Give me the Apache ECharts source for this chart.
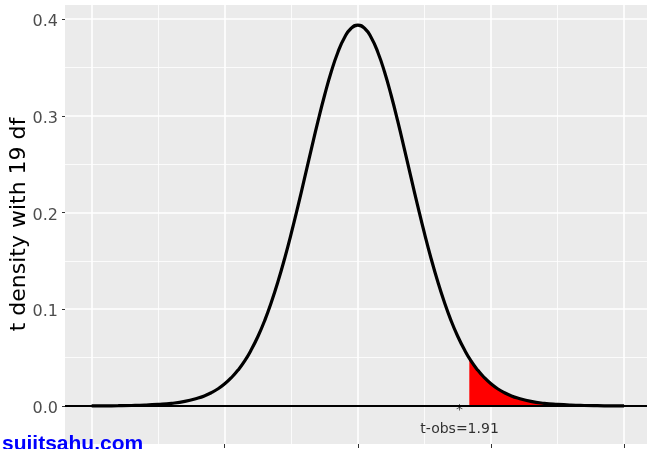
<!DOCTYPE html>
<html>
<head>
<meta charset="utf-8">
<script src="https://cdn.jsdelivr.net/npm/echarts@6/dist/echarts.min.js"></script>
<style>html,body{margin:0;padding:0;background:#fff;}#c{width:647px;height:449px;}</style>
</head>
<body>
<div id="c"></div>
<script>
// ---- data ----
const tValues = [-5,-4.75,-4.5,-4.25,-4,-3.75,-3.5,-3.25,-3,-2.875,-2.75,-2.625,-2.5,-2.375,-2.25,-2.125,-2,-1.875,-1.75,-1.625,-1.5,-1.375,-1.25,-1.125,-1,-0.875,-0.75,-0.625,-0.5,-0.375,-0.25,-0.125,
                 0,0.125,0.25,0.375,0.5,0.625,0.75,0.875,1,1.125,1.25,1.375,1.5,1.625,1.75,1.875,2,2.125,2.25,2.375,2.5,2.625,2.75,2.875,3,3.25,3.5,3.75,4,4.25,4.5,4.75,5];
const densityValues = [0.0001,0.00016,0.00028,0.00049,0.00088,0.0016,0.0027,0.0047,0.0082,0.0106,0.0138,0.0178,0.0229,0.0293,0.0371,0.0466,0.0583,0.0721,0.0883,0.1072,0.1286,0.1525,0.1786,0.2066,0.2357,0.2652,0.2941,0.3212,0.3455,0.3657,0.3810,0.3905,
                       0.3937,0.3905,0.3810,0.3657,0.3455,0.3212,0.2941,0.2652,0.2357,0.2066,0.1786,0.1525,0.1286,0.1072,0.0883,0.0721,0.0583,0.0466,0.0371,0.0293,0.0229,0.0178,0.0138,0.0106,0.0082,0.0047,0.0027,0.0016,0.00088,0.00049,0.00028,0.00016,0.0001];
const shadeT = [2.093,2.125,2.25,2.375,2.5,2.625,2.75,2.875,3,3.25,3.5,3.75,4,4.25,4.5,4.75,5];
const shadeDensity = [0.0495,0.0466,0.0371,0.0293,0.0229,0.0178,0.0138,0.0106,0.0082,0.0047,0.0027,0.0016,0.00088,0.00049,0.00028,0.00016,0.0001];
const tObs = 1.91;
const starY = -0.0046;
const labelY = -0.0238;
const obsLabel = 't-obs=1.91';
const xBreaksMajor = [-5,-2.5,0,2.5,5];
const xBreaksMinor = [-3.75,-1.25,1.25,3.75];
const yBreaksMajor = [0,0.1,0.2,0.3,0.4];
const yBreaksMinor = [0.05,0.15,0.25,0.35];
const yTickLabels = ['0.0','0.1','0.2','0.3','0.4'];
const yTitle = 't density with 19 df';
const watermark = 'sujitsahu.com';

const X_MIN = -5.5, X_MAX = 5.43, Y_MIN = -0.0393, Y_MAX = 0.4145;

const chart = echarts.init(document.getElementById('c'), null, {renderer:'canvas'});
const curve = tValues.map((t,i)=>[t, densityValues[i]]);
const shade = [[shadeT[0],0]].concat(shadeT.map((t,i)=>[t, shadeDensity[i]]));

const vLine = (v,w)=>[{coord:[v, Y_MIN], lineStyle:{color:'#fff', width:w, type:'solid', opacity:1}},{coord:[v, Y_MAX]}];
const hLine = (v,w)=>[{coord:[X_MIN, v], lineStyle:{color:'#fff', width:w, type:'solid', opacity:1}},{coord:[X_MAX, v]}];
const gridLines = []
  .concat(xBreaksMinor.map(v=>vLine(v,0.8)))
  .concat(yBreaksMinor.map(v=>hLine(v,0.8)))
  .concat(xBreaksMajor.map(v=>vLine(v,1.6)))
  .concat(yBreaksMajor.map(v=>hLine(v,1.6)));

chart.setOption({
  animation:false,
  grid:{left:65, right:0, top:5, bottom:5, show:true, backgroundColor:'#EBEBEB', borderWidth:0,
        containLabel:false, outerBoundsMode:'none'},
  xAxis:{type:'value', min:X_MIN, max:X_MAX,
    axisLine:{show:false, onZero:false}, splitLine:{show:false},
    axisTick:{show:true, customValues:xBreaksMajor, length:4, lineStyle:{color:'#333', width:1}},
    axisLabel:{show:false}},
  yAxis:{type:'value', min:Y_MIN, max:Y_MAX,
    name:yTitle, nameLocation:'middle', nameGap:35, nameMoveOverlap:false,
    nameTextStyle:{fontFamily:'DejaVu Sans', fontSize:22, color:'#000'},
    axisLine:{show:false, onZero:false}, splitLine:{show:false},
    axisTick:{show:true, customValues:yBreaksMajor, length:3, lineStyle:{color:'#333', width:1}},
    axisLabel:{show:true, customValues:yBreaksMajor, margin:7, verticalAlign:'top', lineHeight:6,
      fontFamily:'DejaVu Sans', fontSize:16, color:'#4D4D4D',
      formatter:(v)=>{const i=yBreaksMajor.findIndex(b=>Math.abs(b-v)<1e-9); return i>=0?yTickLabels[i]:'';}}},
  graphic:[{type:'text', z:100, style:{x:2, y:444, text:watermark, fill:'#0000FF', font:'bold 21px "Liberation Sans"', verticalAlign:'middle'}}],
  series:[
    {type:'line', z:1, data:[], silent:true,
     markLine:{z:1, silent:true, symbol:['none','none'], label:{show:false}, animation:false, data:gridLines}},
    {type:'line', z:2, data:shade, smooth:false, showSymbol:false, symbol:'none',
     lineStyle:{width:0}, areaStyle:{color:'#FF0000', opacity:1}},
    {type:'line', z:3, data:[], silent:true,
     markLine:{z:3, silent:true, symbol:['none','none'], label:{show:false}, animation:false,
       data:[[{coord:[X_MIN,0], lineStyle:{color:'#000', width:1.8, type:'solid'}},{coord:[X_MAX,0]}]]}},
    {type:'line', z:4, data:curve, smooth:true, showSymbol:false, symbol:'none',
     lineStyle:{color:'#000', width:3.2}},
    {type:'scatter', z:5, data:[[tObs, starY]], symbolSize:1, itemStyle:{color:'rgba(0,0,0,0)'},
     label:{show:true, position:'inside', formatter:'*', fontFamily:'DejaVu Sans', fontSize:14, color:'#000'}},
    {type:'scatter', z:5, data:[[tObs, labelY]], symbolSize:1, itemStyle:{color:'rgba(0,0,0,0)'},
     label:{show:true, position:'inside', formatter:obsLabel, fontFamily:'DejaVu Sans', fontSize:14, color:'#000'}}
  ]
});
</script>
</body>
</html>
